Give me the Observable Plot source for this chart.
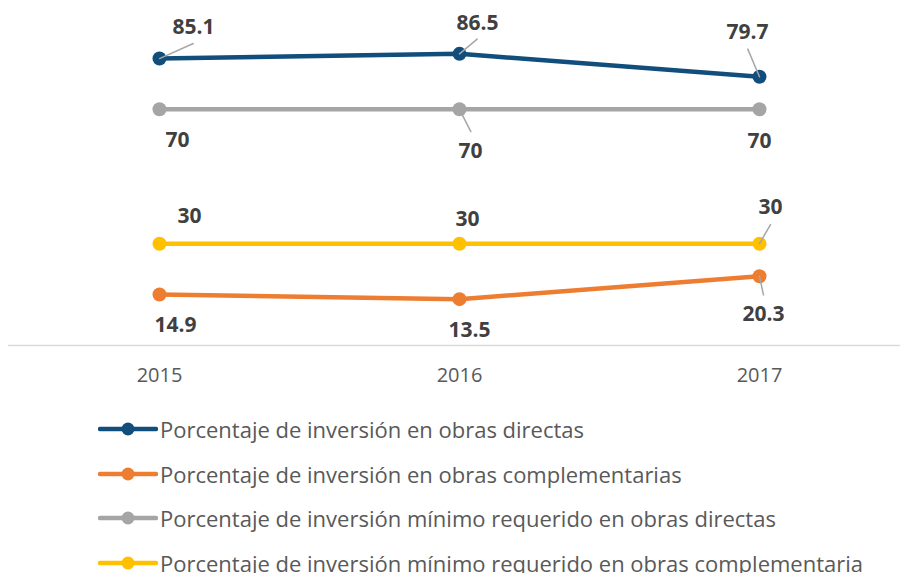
<!DOCTYPE html>
<html>
<head>
<meta charset="utf-8">
<script src="https://cdn.jsdelivr.net/npm/d3@7"></script>
<script src="https://cdn.jsdelivr.net/npm/@observablehq/plot@0.6"></script>
<style>
  html, body { margin: 0; padding: 0; background: #fff; overflow: hidden; }
  #legend { margin-top: 12px; font-family: "Open Sans", sans-serif; font-size: 22px; color: #595959; }
  .row { height: 44.6px; display: flex; align-items: center; }
  .row svg { margin-left: 98px; margin-right: 2px; flex: none; }
  .row span { white-space: nowrap; }
</style>
</head>
<body>
<div id="chart"></div>
<div id="legend"></div>
<script>
// ---- data ----
const years = ["2015", "2016", "2017"];
const seriesNames = [
  "Porcentaje de inversión en obras directas",
  "Porcentaje de inversión en obras complementarias",
  "Porcentaje de inversión mínimo requerido en obras directas",
  "Porcentaje de inversión mínimo requerido en obras complementaria"
];
const directas = [85.1, 86.5, 79.7];
const complementarias = [14.9, 13.5, 20.3];
const minimoDirectas = [70, 70, 70];
const minimoComplementarias = [30, 30, 30];
const seriesColors = ["#114e7b", "#ed7d31", "#a5a5a5", "#ffc000"];

const seriesValues = [directas, complementarias, minimoDirectas, minimoComplementarias];
const rows = seriesValues.flatMap((vals, s) =>
  vals.map((v, i) => ({series: seriesNames[s], year: years[i], value: v, s, i}))
);

// ---- label placement (pixel offsets, styling only) ----
// [series index, year index, dx, dy, leaderRotate, leaderLength]
const labelLayout = [
  [0, 0, 34, -31, 66, 37],
  [0, 1, 18, -31, 50, 23],
  [0, 2, -12, -44, -23, 30],
  [2, 0, 18, 31, null, 0],
  [2, 1, 11, 42, 153, 25],
  [2, 2, 0, 32, null, 0],
  [3, 0, 30, -27, null, 0],
  [3, 1, 8, -24, null, 0],
  [3, 2, 11, -36, 30, 22],
  [1, 0, 16, 31, null, 0],
  [1, 1, 10, 31, null, 0],
  [1, 2, 4, 38, 168, 19]
];

const lineShape = {draw(context, l) { context.moveTo(0, 0); context.lineTo(0, -l); }};

const marks = [
  Plot.ruleY([0], {stroke: "#d9d9d9", strokeWidth: 1.5, dy: 1})
];
seriesNames.forEach((name, s) => {
  const data = rows.filter(d => d.s === s);
  marks.push(Plot.line(data, {x: "year", y: "value", stroke: seriesColors[s], strokeWidth: 4.5}));
  marks.push(Plot.dot(data, {x: "year", y: "value", r: 7, fill: seriesColors[s], stroke: "none"}));
});
labelLayout.forEach(([s, i, dx, dy, rot, len]) => {
  const d = rows.find(r => r.s === s && r.i === i);
  if (rot !== null) {
    marks.push(Plot.vector([d], {x: "year", y: "value", rotate: rot, length: len, anchor: "start",
      shape: lineShape, stroke: "#a6a6a6", strokeWidth: 1.5}));
  }
  marks.push(Plot.text([d], {x: "year", y: "value", text: r => String(r.value), dx, dy,
    fontSize: 21, fontWeight: "bold", fill: "#404040"}));
});

const chart = Plot.plot({
  width: 900,
  height: 395,
  marginTop: 8,
  marginBottom: 51,
  marginLeft: 8,
  marginRight: 0,
  style: {fontFamily: "'Open Sans', sans-serif", fontSize: "20px", color: "#595959", background: "#fff"},
  x: {type: "point", domain: years, range: [8, 910], padding: 0.5, tickSize: 0, tickPadding: 23, label: null},
  y: {domain: [0, 100], axis: null},
  marks
});
document.getElementById("chart").appendChild(chart);

// ---- legend ----
const legend = document.getElementById("legend");
seriesNames.forEach((name, s) => {
  const row = document.createElement("div");
  row.className = "row";
  row.innerHTML = `<svg width="60" height="20" viewBox="0 0 60 20">
      <line x1="2" y1="10" x2="58" y2="10" stroke="${seriesColors[s]}" stroke-width="4.5" stroke-linecap="round"/>
      <circle cx="30" cy="10" r="6.5" fill="${seriesColors[s]}"/>
    </svg><span>${name}</span>`;
  legend.appendChild(row);
});
</script>
</body>
</html>
